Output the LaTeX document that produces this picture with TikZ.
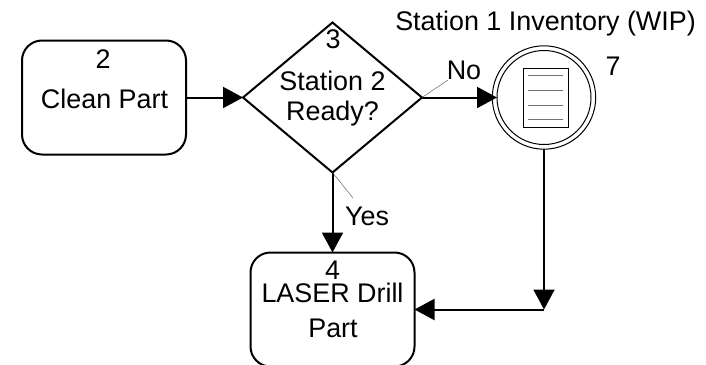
\documentclass[tikz,border=0pt]{standalone}
\usepackage{fontspec}
\setmainfont{Liberation Sans}
\usetikzlibrary{arrows.meta,shapes.geometric}

\begin{document}
\begin{tikzpicture}[x=0.5pt,y=-0.5pt,>={Triangle[length=10pt,width=10.5pt]},font=\fontsize{13.45}{15}\selectfont,inner sep=0pt,outer sep=0pt]

    \tikzstyle{box}=[draw=black,line width=1pt,rounded corners=10pt,minimum width=82pt,minimum height=57pt]
    \tikzstyle{flow}=[->,draw=black,line width=1pt]
    \tikzstyle{leader}=[draw=black!60,line width=0.25pt]
    \tikzstyle{ring}=[draw=black,circle,line width=0.5pt]

    \clip (0,0) rectangle (706,364);

    \node[box] (clean) at (104,97.5) {};
    \node[box] (drill) at (332.5,309.5) {};
    \node[draw=black,line width=1pt,diamond,minimum width=89.5pt,minimum height=75pt] (ready) at (332.5,97.5) {};
    \node[ring,minimum size=51.7pt] (wipouter) at (544,97.5) {};
    \node[ring,minimum size=47pt]   (wipinner) at (544,97.5) {};
    \node[draw=black,line width=0.5pt,minimum width=22.5pt,minimum height=29.5pt] (doc) at (545.5,97.5) {};

    \foreach \ypos in {75.5,90,105,119.5}
        \draw[draw=black!55,line width=0.5pt] (528,\ypos) -- (563,\ypos);

    \node (title)   at (545.5,24)  {Station 1 Inventory (WIP)};
    \node (num7)    at (613,66)    {7};
    \node (num2)    at (103,59)    {2};
    \node (cleantx) at (104.5,99)  {Clean Part};
    \node (num3)    at (333,39)    {3};
    \node (readya)  at (332.5,81)  {Station 2};
    \node (readyb)  at (332.5,114) {Ready?};
    \node (num4)    at (332.5,270) {4};
    \node (drilla)  at (332.5,293) {LASER Drill};
    \node (drillb)  at (333,328)   {Part};
    \node (no)      at (464,70)    {No};
    \node (yes)     at (367,216)   {Yes};

    \coordinate (corner)  at (544,309.5);
    \coordinate (noend)   at (448,80);
    \coordinate (yesend)  at (353,198);

    \path
    (clean.east)     edge[flow]   (ready.west)
    (ready.east)     edge[flow]   (wipinner.west)
    (ready.south)    edge[flow]   (drill.north)
    (wipouter.south) edge[flow]   (corner)
    (corner)         edge[flow]   (drill.east)
    (ready.east)     edge[leader] (noend)
    (ready.south)    edge[leader] (yesend);

\end{tikzpicture}
\end{document}
